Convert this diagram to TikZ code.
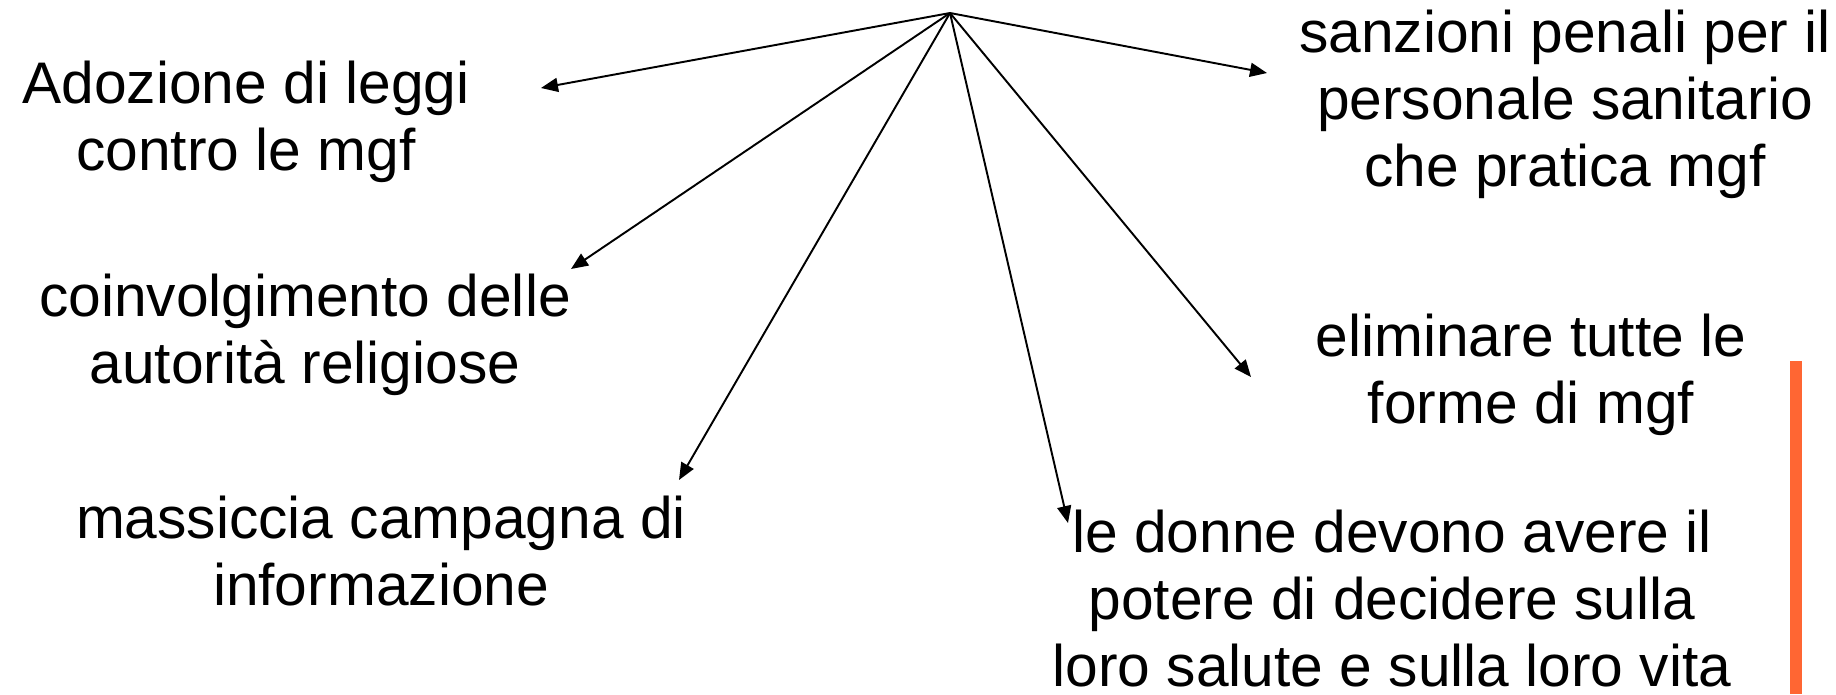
\documentclass[tikz,border=0pt]{standalone}
\usepackage{fontspec}
\setmainfont{Liberation Sans}
\usetikzlibrary{arrows.meta, positioning}
\definecolor{barorange}{RGB}{255,102,51}
\tikzstyle{actionbox} = [align=center, inner sep=0pt, anchor=base, font=\fontsize{33.4}{38.1}\selectfont]
\tikzstyle{arrow} = [line width=1.1pt, -{Triangle[length=0.34cm, width=0.28cm]}]

\begin{document}
\begin{tikzpicture}[x=0.02cm, y=-0.02cm]
  \useasboundingbox (0,0) rectangle (1836,694);
  \coordinate (hub) at (950,13);

  % nodes sit on the baseline of their last line
  \node (leggi) [actionbox] at (246,170) {Adozione di leggi\\contro le mgf};
  \node (religione) [actionbox] at (305,383) {coinvolgimento delle\\autorità religiose};
  \node (campagna) [actionbox] at (381,605) {massiccia campagna di\\informazione};
  \node (donne) [actionbox] at (1392,686) {le donne devono avere il\\potere di decidere sulla\\loro salute e sulla loro vita};
  \node (eliminare) [actionbox] at (1531,423) {eliminare tutte le\\forme di mgf};
  \node (sanzioni) [actionbox] at (1565,186) {sanzioni penali per il\\personale sanitario\\che pratica mgf};

  \coordinate (leggiend) at (541,88);
  \coordinate (religioneend) at (571,269);
  \coordinate (campagnaend) at (679,480);
  \coordinate (donneend) at (1068,523);
  \coordinate (eliminareend) at (1251,377);
  \coordinate (sanzioniend) at (1267,73);

  \draw[arrow] (hub) -- (leggiend);
  \draw[arrow] (hub) -- (religioneend);
  \draw[arrow] (hub) -- (campagnaend);
  \draw[arrow] (hub) -- (donneend);
  \draw[arrow] (hub) -- (eliminareend);
  \draw[arrow] (hub) -- (sanzioniend);

  \fill[barorange] (1790,361) rectangle (1802,694);
\end{tikzpicture}
\end{document}
